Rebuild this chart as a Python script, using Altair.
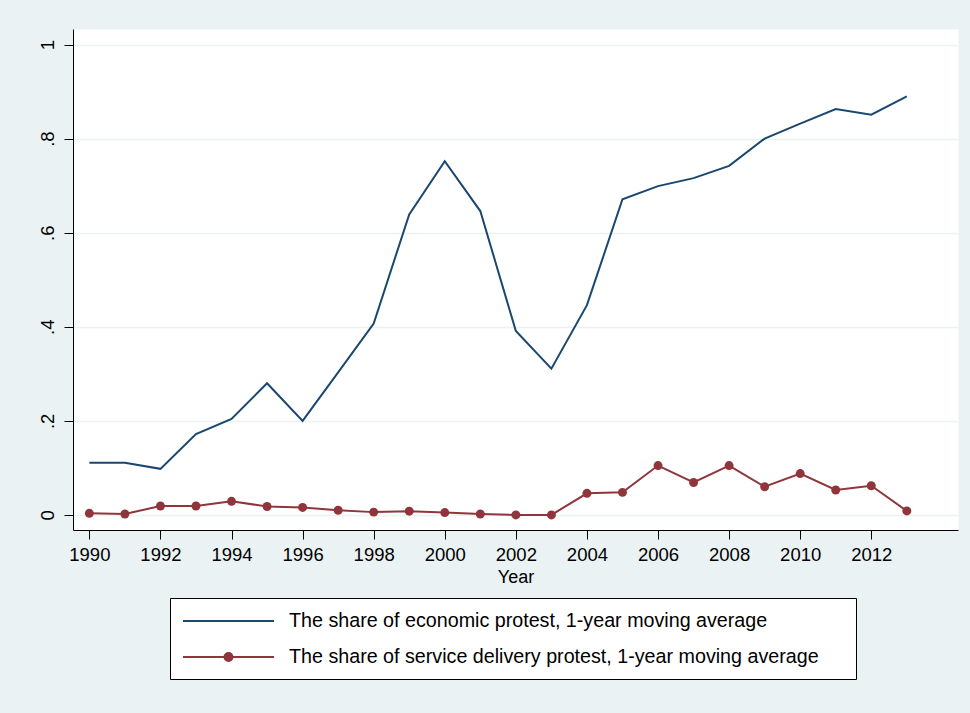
import altair as alt
import pandas as pd

years = list(range(1990, 2014))
economic = [0.111, 0.111, 0.098, 0.172, 0.204, 0.280, 0.200, 0.303, 0.407, 0.639,
            0.752, 0.646, 0.391, 0.311, 0.446, 0.671, 0.699, 0.716, 0.742, 0.800,
            0.832, 0.863, 0.851, 0.890]
service = [0.0035, 0.002, 0.019, 0.019, 0.029, 0.018, 0.016, 0.010, 0.006, 0.008,
           0.005, 0.002, 0.0, 0.0, 0.046, 0.048, 0.105, 0.069, 0.105, 0.060,
           0.088, 0.053, 0.062, 0.0085]
series_names = ["The share of economic protest, 1-year moving average",
                "The share of service delivery protest, 1-year moving average"]
colors = ["#1a476f", "#90353b"]
x_ticks = list(range(1990, 2013, 2))
y_ticks = [0, 0.2, 0.4, 0.6, 0.8, 1]

df = pd.DataFrame({
    "year": years * 2,
    "value": economic + service,
    "series": [series_names[0]] * len(years) + [series_names[1]] * len(years),
})

FONT = "Liberation Sans"

# legend symbol paths (unit = 10 px with symbolSize 400); trailing moveto widens the legend box
path_line = "M-1,0L8.1,0M64.7,0"
path_line_dot = "M-1,0L8.1,0M3.95,0A0.4,0.4,0,1,1,3.15,0A0.4,0.4,0,1,1,3.95,0ZM64.7,0"

leg = alt.Legend(
    orient="none", legendX=97, legendY=569, title=None,
    fillColor="white", strokeColor="black", padding=12,
    symbolSize=400, symbolStrokeWidth=2, symbolOpacity=1, labelOffset=85,
    labelFont=FONT, labelFontSize=19.7, labelColor="black",
    rowPadding=15, labelLimit=1000,
)

xenc = alt.X("year:Q", scale=alt.Scale(domain=[1989.54, 2014.44], nice=False, zero=False),
             axis=alt.Axis(values=x_ticks, format="d", tickSize=9, labelPadding=6,
                           grid=False, title="Year", titlePadding=5, labelFlush=False))
yenc = alt.Y("value:Q", scale=alt.Scale(domain=[-0.032, 1.033], nice=False, zero=False),
             axis=alt.Axis(values=y_ticks, tickSize=9, labelPadding=11, labelAngle=270,
                           labelAlign="center", labelBaseline="alphabetic", title=None,
                           labelFlush=False,
                           labelExpr="datum.value == 0 ? '0' : datum.value == 1 ? '1' : replace(format(datum.value, '.1f'), '0.', '.')"))

stroke_scale = alt.Scale(domain=series_names, range=colors)

lines = alt.Chart(df).mark_line(strokeWidth=2).encode(
    x=xenc, y=yenc,
    stroke=alt.Stroke("series:N", scale=stroke_scale, legend=leg),
)

points = alt.Chart(df).transform_filter(
    alt.datum.series == series_names[1]
).mark_point(filled=True, size=80, opacity=1, color=colors[1]).encode(x=xenc, y=yenc)

legend_driver = alt.Chart(df).transform_filter(
    alt.datum.year < 0
).mark_point(filled=True, size=80, opacity=1).encode(
    x=xenc, y=yenc,
    fill=alt.Fill("series:N", scale=alt.Scale(domain=series_names, range=colors), legend=leg),
    shape=alt.Shape("series:N", scale=alt.Scale(domain=series_names, range=[path_line, path_line_dot]), legend=leg),
)

chart = alt.layer(lines, points, legend_driver).properties(
    width=885, height=501,
    background="#eaf2f3",
    padding={"left": 73, "top": 29, "right": 12, "bottom": 183},
    autosize=alt.AutoSizeParams(type="none"),
).configure_view(
    fill="white", stroke="transparent"
).configure_axis(
    labelFont=FONT, labelFontSize=18.5, labelColor="black",
    titleFont=FONT, titleFontSize=18, titleColor="black", titleFontWeight="normal",
    tickColor="black", domainColor="black", domainWidth=1, tickWidth=1,
    gridColor="#eaf2f3", gridWidth=1.5,
)

chart.save("out.html", embed_options={"renderer": "svg", "actions": False})
